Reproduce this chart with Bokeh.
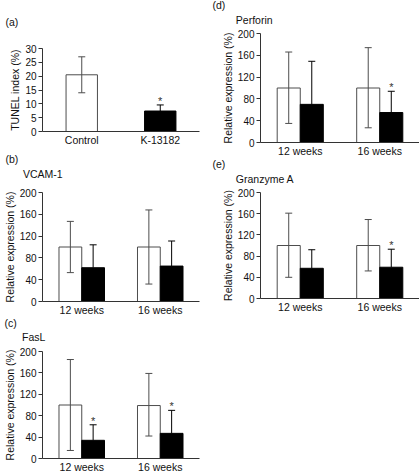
from bokeh.plotting import figure
from bokeh.models import (FactorRange, Range1d, FixedTicker, ColumnDataSource,
                          Whisker, TeeHead, Title)
from bokeh.layouts import row, column
from bokeh.transform import dodge
from bokeh.core.properties import value
from bokeh.embed import file_html
from bokeh.resources import INLINE

# ---------------- data ----------------
# (a) TUNEL index (%)
a_groups = ["Control", "K-13182"]
a_mean = [20.5, 7.4]
a_upper = [27.0, 9.6]
a_lower = [14.0, 5.2]
a_sig = ["", "*"]
a_ticks = [0, 5, 10, 15, 20, 25, 30]

# (b)-(e) relative expression (%)
weeks = ["12 weeks", "16 weeks"]
rel_ticks = [0, 40, 80, 120, 160, 200]

vcam_ctrl = [100, 100]
vcam_ctrl_up = [147, 168]
vcam_ctrl_lo = [53, 32]
vcam_k = [62, 65]
vcam_k_up = [104, 111]
vcam_sig = ["", ""]

fasl_ctrl = [100, 99]
fasl_ctrl_up = [185, 159]
fasl_ctrl_lo = [15, 42]
fasl_k = [34, 47]
fasl_k_up = [63, 90]
fasl_sig = ["*", "*"]

perf_ctrl = [100, 100]
perf_ctrl_up = [166, 174]
perf_ctrl_lo = [35, 27]
perf_k = [70, 55]
perf_k_up = [149, 94]
perf_sig = ["", "*"]

gran_ctrl = [100, 100]
gran_ctrl_up = [161, 149]
gran_ctrl_lo = [40, 52]
gran_k = [57, 59]
gran_k_up = [92, 93]
gran_sig = ["", "*"]

# ---------------- style ----------------
FONT = "Liberation Sans"
AXIS_COLOR = "#333333"
WHITE_LINE = "#4d4d4d"
TEXT = "#111111"
NB = "\u00a0"


def make_fig(w, h, x_range, y_range, borders):
    left, right, top, bottom = borders
    p = figure(width=w, height=h, x_range=x_range, y_range=y_range,
               output_backend="svg", toolbar_location=None, title=None,
               min_border_left=left, min_border_right=right,
               min_border_top=top, min_border_bottom=bottom)
    p.xgrid.grid_line_color = None
    p.ygrid.grid_line_color = None
    p.outline_line_color = None
    p.background_fill_color = "white"
    p.border_fill_color = "white"
    return p


def style_axes(p, yticks, ylabel):
    p.yaxis.ticker = FixedTicker(ticks=yticks)
    p.yaxis.axis_label = ylabel
    p.yaxis.axis_label_text_font = FONT
    p.yaxis.axis_label_text_font_style = "normal"
    p.yaxis.axis_label_text_font_size = "10.5px"
    p.yaxis.axis_label_text_color = TEXT
    p.yaxis.axis_label_standoff = 1
    p.yaxis.major_label_text_font = FONT
    p.yaxis.major_label_text_font_size = "10px"
    p.yaxis.major_label_text_color = TEXT
    p.yaxis.major_label_standoff = 2
    p.yaxis.minor_tick_line_color = None
    p.yaxis.major_tick_in = 0
    p.yaxis.major_tick_out = 4
    p.yaxis.major_tick_line_color = AXIS_COLOR
    p.yaxis.axis_line_color = AXIS_COLOR
    p.xaxis.major_tick_line_color = None
    p.xaxis.major_tick_in = 0
    p.xaxis.major_tick_out = 0
    p.xaxis.major_label_standoff = 2
    p.xaxis.major_label_text_font = FONT
    p.xaxis.major_label_text_font_size = "10.5px"
    p.xaxis.major_label_text_color = TEXT
    p.xaxis.axis_line_color = AXIS_COLOR


def add_heading(p, text, offset, standoff):
    p.add_layout(Title(text=text, align="left", offset=offset, standoff=standoff,
                       vertical_align="bottom", text_font=FONT,
                       text_font_size="10.5px", text_font_style="normal",
                       text_color=TEXT, text_line_height=1.2), "above")


def whisker(p, src, base, upper, lower, color, lower_head=True):
    w = Whisker(source=src, base=base, upper=upper, lower=lower,
                line_color=color, line_width=1, level="annotation",
                upper_head=TeeHead(size=7, line_color=color, line_width=1),
                lower_head=TeeHead(size=7, line_color=color, line_width=1) if lower_head else None)
    p.add_layout(w)


def stars(p, src, x, y):
    p.text(x=x, y=y, text="sig", source=src, text_font=value(FONT),
           text_font_size="11px", text_color="#333333", text_align="center",
           text_baseline="middle", y_offset=-4)


# ---------------- panel (a) ----------------
pa = make_fig(210, 152, FactorRange(*a_groups), Range1d(0, 30), (40, 3, 48, 21))
style_axes(pa, a_ticks, "TUNEL index (%)")
ca = ColumnDataSource(dict(x=[a_groups[0]], top=[a_mean[0]], up=[a_upper[0]], lo=[a_lower[0]]))
ka = ColumnDataSource(dict(x=[a_groups[1]], top=[a_mean[1]], up=[a_upper[1]], lo=[a_mean[1]], sig=[a_sig[1]]))
pa.vbar(x="x", top="top", width=0.40, source=ca, fill_color="white", line_color=WHITE_LINE)
pa.vbar(x="x", top="top", width=0.40, source=ka, fill_color="black", line_color="black")
whisker(pa, ca, "x", "up", "lo", WHITE_LINE)
whisker(pa, ka, "x", "up", "lo", "black", lower_head=False)
stars(pa, ka, "x", "up")
add_heading(pa, "(a)\n" + NB, -37, 13)


# ---------------- panels (b)-(e) ----------------
def rel_panel(w, h, borders, ctrl, ctrl_up, ctrl_lo, k, k_up, sig, letter, name,
              offset, indent, standoff):
    p = make_fig(w, h, FactorRange(*weeks), Range1d(0, 200), borders)
    style_axes(p, rel_ticks, "Relative expression (%)")
    src = ColumnDataSource(dict(g=weeks, ctrl=ctrl, ctrl_up=ctrl_up, ctrl_lo=ctrl_lo,
                                k=k, k_up=k_up, sig=sig))
    xc = dodge("g", -0.145, range=p.x_range)
    xk = dodge("g", 0.145, range=p.x_range)
    p.vbar(x=xc, top="ctrl", width=0.29, source=src, fill_color="white", line_color=WHITE_LINE)
    p.vbar(x=xk, top="k", width=0.29, source=src, fill_color="black", line_color="black")
    whisker(p, src, dodge("g", -0.145, range=p.x_range), "ctrl_up", "ctrl_lo", WHITE_LINE)
    whisker(p, src, dodge("g", 0.145, range=p.x_range), "k_up", "k", "black", lower_head=False)
    stars(p, src, dodge("g", 0.145, range=p.x_range), "k_up")
    add_heading(p, letter + "\n" + NB * indent + name + "\n" + NB, offset, standoff)
    return p


pb = rel_panel(210, 166, (40, 11, 40, 15), vcam_ctrl, vcam_ctrl_up, vcam_ctrl_lo,
               vcam_k, vcam_k_up, vcam_sig, "(b)", "VCAM-1", -37, 6, -3)
pc = rel_panel(210, 157, (40, 11, 33, 14), fasl_ctrl, fasl_ctrl_up, fasl_ctrl_lo,
               fasl_k, fasl_k_up, fasl_sig, "(c)", "FasL", -38, 6, -12)
pd = rel_panel(209, 159, (50, 0, 33, 16), perf_ctrl, perf_ctrl_up, perf_ctrl_lo,
               perf_k, perf_k_up, perf_sig, "(d)", "Perforin", -48, 8, -13)
pe = rel_panel(209, 156, (50, 0, 33, 15), gran_ctrl, gran_ctrl_up, gran_ctrl_lo,
               gran_k, gran_k_up, gran_sig, "(e)", "Granzyme A", -48, 8, -13)

layout = row(column(pa, pb, pc), column(pd, pe))

open("out.html", "w").write(file_html(layout, INLINE))
